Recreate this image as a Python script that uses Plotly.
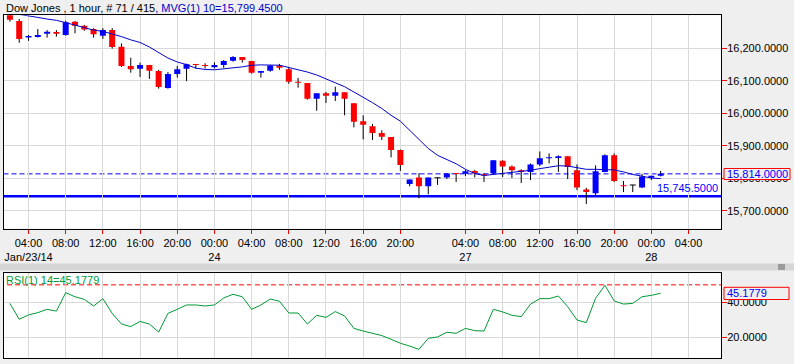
import plotly.graph_objects as go

# ---------------- data ----------------
bar_index = list(range(71))
opens = [16310, 16284, 16233, 16235, 16245, 16250, 16241, 16282, 16269, 16259,
         16239, 16256, 16205, 16146, 16137, 16149, 16130, 16078, 16121, 16137,
         16152, 16149, 16142, 16149, 16162, 16173, 16161, 16125, 16131, 16147,
         16136, 16097, 16093, 16045, 16062, 16054, 16065, 16031, 15976, 15960,
         15940, 15927, 15887, 15783, 15803, 15776, 15802, 15803, 15816, 15814,
         15823, 15813, 15816, 15854, 15837, 15825, 15820, 15843, 15862, 15863,
         15868, 15825, 15766, 15754, 15820, 15871, 15779, 15780, 15772, 15802,
         15808]
highs = [16315, 16290, 16241, 16259, 16256, 16256, 16285, 16284, 16272, 16262,
         16262, 16262, 16215, 16171, 16156, 16149, 16134, 16127, 16146, 16153,
         16152, 16154, 16157, 16164, 16176, 16173, 16161, 16130, 16149, 16152,
         16143, 16109, 16093, 16062, 16066, 16082, 16065, 16031, 15994, 15967,
         15948, 15927, 15889, 15797, 15816, 15803, 15802, 15815, 15816, 15826,
         15826, 15816, 15856, 15856, 15840, 15828, 15846, 15883, 15877, 15871,
         15868, 15843, 15771, 15840, 15874, 15877, 15792, 15780, 15814, 15808,
         15823]
lows = [16282, 16217, 16223, 16233, 16233, 16236, 16239, 16246, 16254, 16233,
        16229, 16199, 16143, 16125, 16112, 16106, 16076, 16076, 16110, 16099,
        16138, 16138, 16138, 16140, 16159, 16156, 16122, 16110, 16128, 16134,
        16091, 16079, 16042, 16008, 16032, 16038, 15994, 15957, 15920, 15918,
        15918, 15865, 15823, 15776, 15739, 15751, 15780, 15798, 15789, 15807,
        15803, 15789, 15813, 15804, 15801, 15786, 15795, 15838, 15846, 15820,
        15798, 15764, 15721, 15748, 15819, 15789, 15758, 15758, 15770, 15795,
        15806]
closes = [16288, 16229, 16238, 16241, 16251, 16245, 16280, 16269, 16258, 16243,
          16256, 16204, 16146, 16136, 16149, 16131, 16081, 16121, 16136, 16151,
          16149, 16146, 16149, 16161, 16173, 16164, 16125, 16130, 16147, 16140,
          16097, 16094, 16045, 16062, 16054, 16065, 16045, 15974, 15965, 15940,
          15928, 15887, 15841, 15797, 15776, 15803, 15802, 15815, 15814, 15822,
          15816, 15809, 15856, 15837, 15825, 15820, 15843, 15862, 15865, 15868,
          15835, 15772, 15758, 15822, 15871, 15792, 15776, 15780, 15806, 15808,
          15814]
mvg10 = [16309, 16305, 16300, 16295, 16290, 16286, 16279, 16272, 16263, 16256,
         16252, 16245, 16236, 16226, 16218, 16204, 16186, 16170, 16158, 16150,
         16139, 16135, 16134, 16136, 16140, 16143, 16148, 16149, 16149, 16148,
         16141, 16135, 16127, 16118, 16105, 16094, 16082, 16066, 16051, 16033,
         16015, 15994, 15976, 15948, 15917, 15892, 15871, 15859, 15845, 15828,
         15815, 15809, 15812, 15816, 15817, 15820, 15825, 15830, 15834, 15839,
         15838, 15832, 15828, 15828, 15827, 15826, 15820, 15812, 15807, 15801,
         15799.45]
rsi14 = [39.4, 30.3, 32.8, 34.1, 36.0, 35.0, 45.5, 43.2, 41.7, 37.9,
         42.1, 33.7, 27.6, 26.1, 29.1, 27.6, 23.0, 33.7, 36.0, 38.5,
         38.5, 37.9, 38.5, 42.5, 44.6, 43.2, 36.0, 38.5, 41.9, 40.6,
         33.9, 33.9, 27.6, 32.6, 31.4, 34.7, 32.2, 25.1, 23.6, 22.3,
         21.0, 18.9, 16.6, 15.0, 13.1, 19.4, 20.2, 22.9, 22.3, 25.1,
         23.8, 23.6, 36.0, 34.5, 32.6, 31.8, 39.0, 42.1, 42.1, 43.6,
         37.5, 29.9, 28.4, 42.3, 49.7, 40.8, 39.0, 39.4, 43.2, 44.0,
         45.1779]
last_price = 15814.0
support_level = 15745.5
rsi_level = 50
tick_pos = [2, 6, 10, 14, 18, 22, 26, 30, 34, 38, 42, 49, 53, 57, 61, 65, 69, 73]
tick_text = ["04:00<br>Jan/23/14", "08:00", "12:00", "16:00", "20:00", "00:00<br>24",
             "04:00", "08:00", "12:00", "16:00", "20:00", "04:00<br>27", "08:00",
             "12:00", "16:00", "20:00", "00:00<br>28", "04:00"]
price_ticks = [15700, 15800, 15900, 16000, 16100, 16200]
rsi_ticks = [20, 40]

# ---------------- geometry helpers ----------------
W, H = 794, 364
def px(x):
    return x / W
def py(y):
    return 1 - y / H

X_RANGE = [-0.69, 76.49]
FONT = "Liberation Sans, Arial, sans-serif"
BG = "#efefef"
GRID = "#d9d9d9"

fig = go.Figure()

# wicks
wx, wy = [], []
for i, lo, hi in zip(bar_index, lows, highs):
    wx += [i, i, None]
    wy += [lo, hi, None]
fig.add_trace(go.Scatter(x=wx, y=wy, mode="lines", line=dict(color="black", width=1),
                         hoverinfo="skip", showlegend=False, xaxis="x", yaxis="y"))

# bodies
groups = {"#ff0000": ([], []), "#0000ff": ([], []), "#000000": ([], [])}
for i, o, c in zip(bar_index, opens, closes):
    col = "#0000ff" if c > o else ("#ff0000" if c < o else "#000000")
    lo, hi = min(o, c), max(o, c)
    if hi - lo < 3:
        mid = (hi + lo) / 2
        lo, hi = mid - 1.5, mid + 1.5
    groups[col][0].extend([i, i, None])
    groups[col][1].extend([lo, hi, None])
for col, (bx, by) in groups.items():
    fig.add_trace(go.Scatter(x=bx, y=by, mode="lines", line=dict(color=col, width=6),
                             hoverinfo="skip", showlegend=False, xaxis="x", yaxis="y"))

# moving average
fig.add_trace(go.Scatter(x=bar_index, y=mvg10, mode="lines",
                         line=dict(color="#0000cc", width=1), showlegend=False,
                         xaxis="x", yaxis="y"))

# RSI
fig.add_trace(go.Scatter(x=bar_index, y=rsi14, mode="lines",
                         line=dict(color="#009933", width=1), showlegend=False,
                         xaxis="x2", yaxis="y2"))

axis_common = dict(showline=True, linecolor="black", linewidth=1, mirror=True,
                   showgrid=True, gridcolor=GRID, gridwidth=1, zeroline=False,
                   tickfont=dict(family=FONT, size=11, color="black"))

fig.update_layout(
    width=W, height=H,
    margin=dict(l=0, r=0, t=0, b=0),
    paper_bgcolor=BG, plot_bgcolor="white",
    font=dict(family=FONT, size=11, color="black"),
    showlegend=False,
    xaxis=dict(domain=[px(3.5), px(721)], range=X_RANGE, anchor="y",
               tickmode="array", tickvals=tick_pos, ticktext=tick_text, tickangle=0,
               ticks="outside", tickcolor="red", ticklen=4, tickwidth=1, **axis_common),
    yaxis=dict(domain=[py(228.5), py(15.3)], range=[15646, 16301.5], side="right",
               anchor="x", tickmode="array", tickvals=price_ticks, tickformat=",.4f",
               ticks="outside", tickcolor="red", ticklen=5, tickwidth=1,
               ticklabelstandoff=-2, **axis_common),
    xaxis2=dict(domain=[px(3.5), px(721)], range=X_RANGE, anchor="y2",
                tickmode="array", tickvals=tick_pos, showticklabels=False, ticks="",
                **axis_common),
    yaxis2=dict(domain=[py(358.3), py(273.3)], range=[8.0, 56.6], side="right",
                anchor="x2", tickmode="array", tickvals=rsi_ticks, tickformat=".4f",
                ticks="outside", tickcolor="red", ticklen=5, tickwidth=1,
                ticklabelstandoff=-2, **axis_common),
)

shapes = [
    # last price dashed line
    dict(type="line", xref="x domain", yref="y", x0=0, x1=1, y0=last_price, y1=last_price,
         line=dict(color="#0000ff", width=1, dash="5px,3px"), layer="below"),
    # support solid line
    dict(type="line", xref="x domain", yref="y", x0=0, x1=1, y0=support_level, y1=support_level,
         line=dict(color="#0000ff", width=2.5), layer="below"),
    # RSI level dashed red
    dict(type="line", xref="x2 domain", yref="y2", x0=0.005, x1=1, y0=rsi_level, y1=rsi_level,
         line=dict(color="#ff0000", width=1, dash="5px,3px"), layer="below"),
    # separator band between panels
    dict(type="rect", xref="paper", yref="paper", x0=0, x1=1, y0=py(270.5), y1=py(263.5),
         fillcolor="#d6d6d6", line=dict(width=0), layer="below"),
    dict(type="rect", xref="paper", yref="paper", x0=px(778), x1=px(785), y0=py(270), y1=py(264),
         fillcolor="#9a9a9a", line=dict(width=0)),
    # value boxes on the right
    dict(type="rect", xref="paper", yref="paper", x0=px(724), x1=px(790), y0=py(179.5), y1=py(168.5),
         fillcolor=BG, line=dict(color="#ff0000", width=1), layer="above"),
    dict(type="rect", xref="paper", yref="paper", x0=px(724), x1=px(789), y0=py(299.5), y1=py(287.3),
         fillcolor=BG, line=dict(color="#ff0000", width=1), layer="above"),
]
fig.update_layout(shapes=shapes)

annotations = [
    dict(xref="paper", yref="paper", x=px(4), y=py(7.5), xanchor="left", yanchor="middle",
         showarrow=False, font=dict(family=FONT, size=11, color="black"),
         text="Dow Jones , 1 hour, # 71 / 415<span style='color:#0000cc'>, MVG(1) 10=15,799.4500</span>"),
    dict(xref="paper", yref="paper", x=px(726), y=py(174), xanchor="left", yanchor="middle",
         showarrow=False, text="15,814.0000", font=dict(family=FONT, size=11, color="#0000ff"),
         borderpad=0),
    dict(xref="paper", yref="y", x=px(720), y=support_level, xanchor="right", yanchor="bottom",
         showarrow=False, text="15,745.5000", font=dict(family=FONT, size=11, color="#0000ff")),
    dict(xref="paper", yref="paper", x=px(4), y=py(280), xanchor="left", yanchor="middle",
         showarrow=False, text="RSI(1) 14=45.1779", font=dict(family=FONT, size=11, color="#009933")),
    dict(xref="paper", yref="paper", x=px(726), y=py(293.4), xanchor="left", yanchor="middle",
         showarrow=False, text="45.1779", font=dict(family=FONT, size=11, color="#0000ff"),
         borderpad=0),
]
fig.update_layout(annotations=annotations)

fig.write_html("out.html",
               config={"displayModeBar": False},
               post_script="document.body.style.margin='0';document.body.style.padding='0';"
                           "document.body.style.overflow='hidden';")
